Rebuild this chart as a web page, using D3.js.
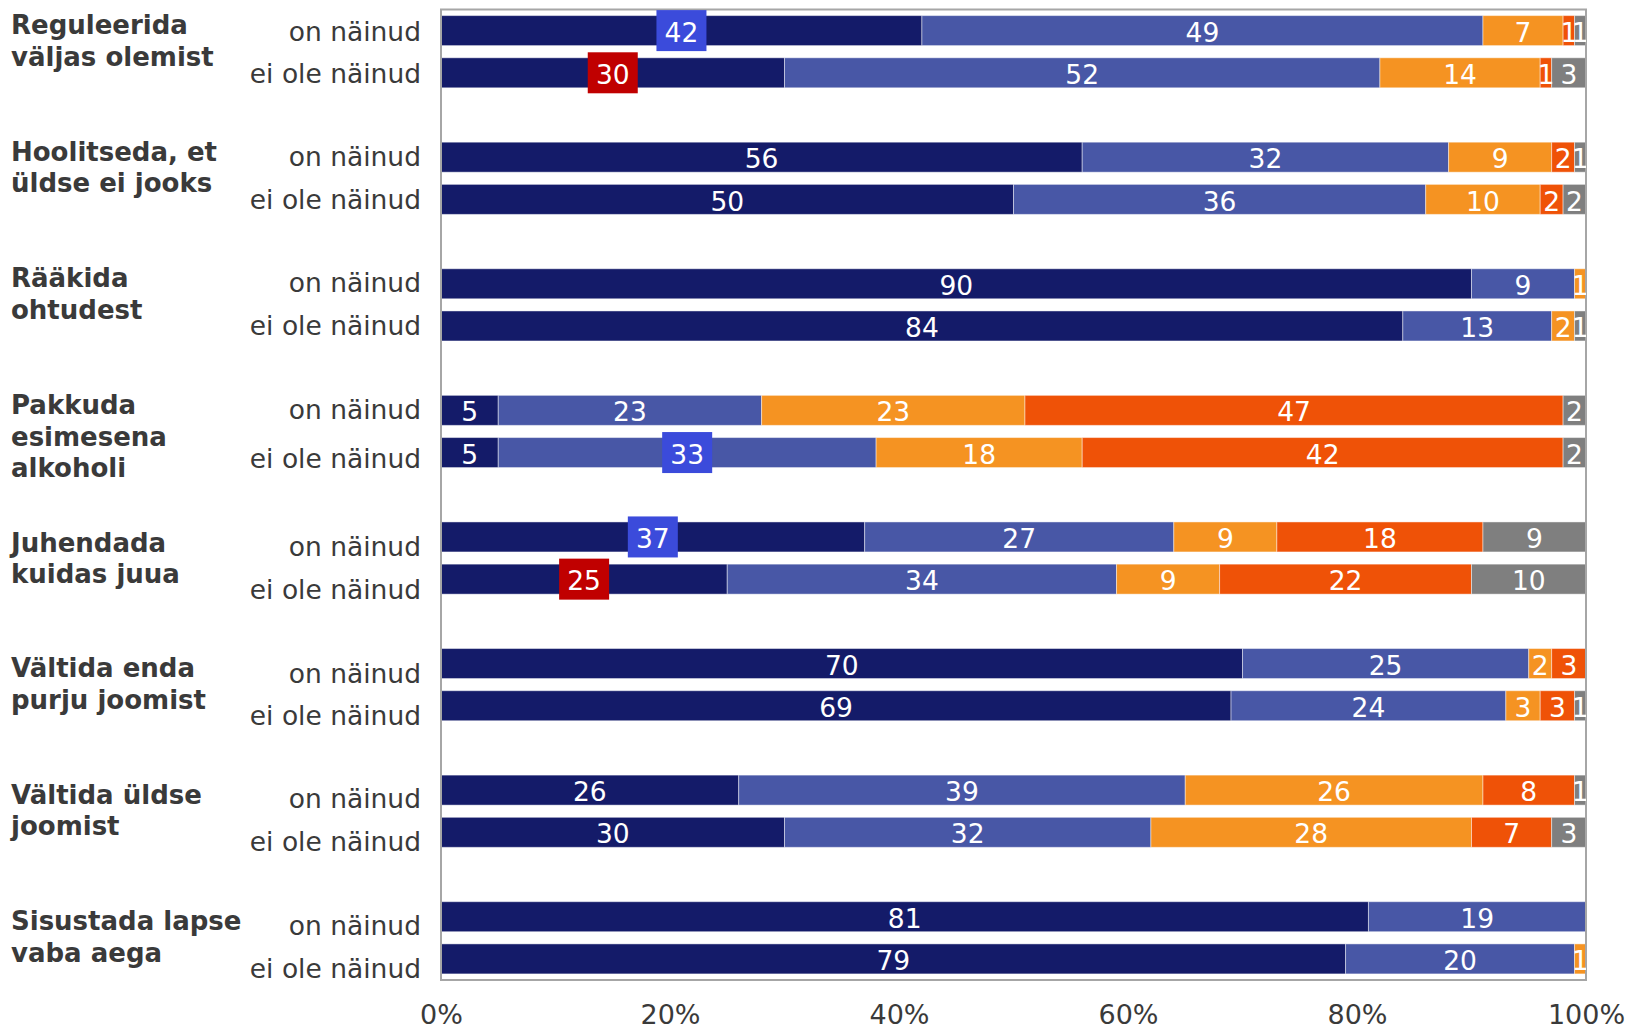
<!DOCTYPE html>
<html>
<head>
<meta charset="utf-8">
<script src="https://cdnjs.cloudflare.com/ajax/libs/d3/7.8.5/d3.min.js"></script>
<style>
  body { margin: 0; background: #fff; }
  svg { display: block; font-family: "DejaVu Sans", Verdana, sans-serif; }
</style>
</head>
<body>
<svg id="chart"></svg>
<script>
// category labels (bold, wrapped) and the two sub-rows
var groupLines = [
    ["Reguleerida", "väljas olemist"],
    ["Hoolitseda, et", "üldse ei jooks"],
    ["Rääkida", "ohtudest"],
    ["Pakkuda", "esimesena", "alkoholi"],
    ["Juhendada", "kuidas juua"],
    ["Vältida enda", "purju joomist"],
    ["Vältida üldse", "joomist"],
    ["Sisustada lapse", "vaba aega"]
];
var subgroups = ["on näinud", "ei ole näinud"];

// five stacked series per row, in %
var onValues = [
    [42, 49, 7, 1, 1],
    [56, 32, 9, 2, 1],
    [90, 9, 1, 0, 0],
    [5, 23, 23, 47, 2],
    [37, 27, 9, 18, 9],
    [70, 25, 2, 3, 0],
    [26, 39, 26, 8, 1],
    [81, 19, 0, 0, 0]
];
var eiValues = [
    [30, 52, 14, 1, 3],
    [50, 36, 10, 2, 2],
    [84, 13, 2, 0, 1],
    [5, 33, 18, 42, 2],
    [25, 34, 9, 22, 10],
    [69, 24, 3, 3, 1],
    [30, 32, 28, 7, 3],
    [79, 20, 1, 0, 0]
];

// highlighted labels: [group, subrow, series, kind]
var highlights = [
    [0, 0, 0, "up"],
    [0, 1, 0, "down"],
    [3, 1, 1, "up"],
    [4, 0, 0, "up"],
    [4, 1, 0, "down"]
];

var xTicks = [0, 20, 40, 60, 80, 100];

var seriesColors = ["#141b69", "#4857a6", "#f59322", "#ef5207", "#7f7f7f"];
var boxColors = { up: "#3b4bdb", down: "#c00000" };
// small vertical nudges of the labels, as placed in the original
var labelShift = [-11, -11, -11, 5, 0, -1, -1, -1];
var subLabelShift = [0, 0, -1, 0, -2, -1, -1, 5, 9, 10, 9, 9, 8, 9, 8, 9];

var W = 1627, H = 1029;
var svg = d3.select("#chart").attr("width", W).attr("height", H);

var plotLeft = 441, plotRight = 1586, plotTop = 9.5, plotBottom = 980;

var rowKeys = [];
groupLines.forEach(function(g, i) {
    rowKeys.push(i + "-0");
    rowKeys.push(i + "-1");
    if (i < groupLines.length - 1) rowKeys.push(i + "-gap");
});

var x = d3.scaleLinear().domain([0, 100]).range([plotLeft, plotRight]);
var y = d3.scaleBand().domain(rowKeys).range([plotTop, plotBottom])
    .paddingInner(0.289).paddingOuter(0.1445);

// flatten rows to segments
var rows = [];
groupLines.forEach(function(g, i) {
    [onValues[i], eiValues[i]].forEach(function(vals, j) {
        var acc = 0;
        var segs = vals.map(function(v, k) {
            var s = { group: i, sub: j, series: k, value: v, x0: acc, x1: acc + v };
            acc += v;
            return s;
        });
        rows.push({ key: i + "-" + j, group: i, sub: j, segs: segs });
    });
});

svg.append("defs").append("clipPath").attr("id", "plotclip")
    .append("rect")
    .attr("x", plotLeft).attr("y", 0)
    .attr("width", plotRight - plotLeft).attr("height", H);

var rowG = svg.append("g").selectAll("g")
    .data(rows)
    .enter().append("g")
    .attr("transform", function(d) { return "translate(0," + y(d.key) + ")"; });

rowG.selectAll("rect")
    .data(function(d) { return d.segs.filter(function(s) { return s.value > 0; }); })
    .enter().append("rect")
    .attr("x", function(d) { return x(d.x0); })
    .attr("width", function(d) { return x(d.x1) - x(d.x0); })
    .attr("y", 0)
    .attr("height", y.bandwidth())
    .attr("fill", function(d) { return seriesColors[d.series]; })
    .attr("stroke", "rgba(255,255,255,0.45)")
    .attr("stroke-width", 1);

// plot frame
svg.append("rect")
    .attr("x", plotLeft).attr("y", plotTop)
    .attr("width", plotRight - plotLeft).attr("height", plotBottom - plotTop)
    .attr("fill", "none")
    .attr("stroke", "#a6a6a6")
    .attr("stroke-width", 2);

// highlight boxes
var hl = {};
highlights.forEach(function(h) { hl[h[0] + "-" + h[1] + "-" + h[2]] = h[3]; });

var labelG = svg.append("g").attr("clip-path", "url(#plotclip)");
var labelRows = labelG.selectAll("g")
    .data(rows)
    .enter().append("g")
    .attr("transform", function(d) { return "translate(0," + (y(d.key) + y.bandwidth() / 2) + ")"; });

labelRows.selectAll("rect")
    .data(function(d) {
        return d.segs.filter(function(s) { return hl[s.group + "-" + s.sub + "-" + s.series]; });
    })
    .enter().append("rect")
    .attr("x", function(d) { return x((d.x0 + d.x1) / 2) - 25; })
    .attr("y", -20.5)
    .attr("width", 50)
    .attr("height", 41)
    .attr("fill", function(d) { return boxColors[hl[d.group + "-" + d.sub + "-" + d.series]]; });

labelRows.selectAll("text")
    .data(function(d) { return d.segs.filter(function(s) { return s.value > 0; }); })
    .enter().append("text")
    .attr("x", function(d) { return x((d.x0 + d.x1) / 2); })
    .attr("dy", "0.42em")
    .attr("text-anchor", "middle")
    .attr("font-size", 26.5)
    .attr("fill", "#fff")
    .text(function(d) { return d.value; });

// sub-row labels
svg.append("g").selectAll("text")
    .data(rows)
    .enter().append("text")
    .attr("x", 421)
    .attr("y", function(d, i) { return y(d.key) + y.bandwidth() / 2 + subLabelShift[i]; })
    .attr("dy", "0.38em")
    .attr("text-anchor", "end")
    .attr("font-size", 26.5)
    .attr("fill", "#3a3a3a")
    .text(function(d) { return subgroups[d.sub]; });

// group labels
var lineH = 31.5;
var grpText = svg.append("g").selectAll("text")
    .data(groupLines)
    .enter().append("text")
    .attr("font-size", 26)
    .attr("font-weight", "bold")
    .attr("fill", "#3a3a3a")
    .attr("transform", function(d, i) {
        var c = (y(i + "-0") + y(i + "-1") + y.bandwidth()) / 2 + labelShift[i];
        var first = c - (d.length - 1) * lineH / 2;
        return "translate(11," + first + ")";
    });

grpText.selectAll("tspan")
    .data(function(d) { return d; })
    .enter().append("tspan")
    .attr("x", 0)
    .attr("y", function(d, k) { return k * lineH; })
    .attr("dy", "0.36em")
    .text(function(d) { return d; });

// x axis
var xAxis = svg.append("g")
    .attr("transform", "translate(0," + plotBottom + ")")
    .call(d3.axisBottom(x).tickValues(xTicks).tickSize(0).tickPadding(0)
        .tickFormat(function(d) { return d + "%"; }));
xAxis.select(".domain").remove();
xAxis.selectAll("text")
    .attr("y", 44)
    .attr("dy", 0)
    .attr("font-size", 27)
    .attr("font-family", "DejaVu Sans, Verdana, sans-serif")
    .attr("fill", "#3a3a3a");
</script>
</body>
</html>
